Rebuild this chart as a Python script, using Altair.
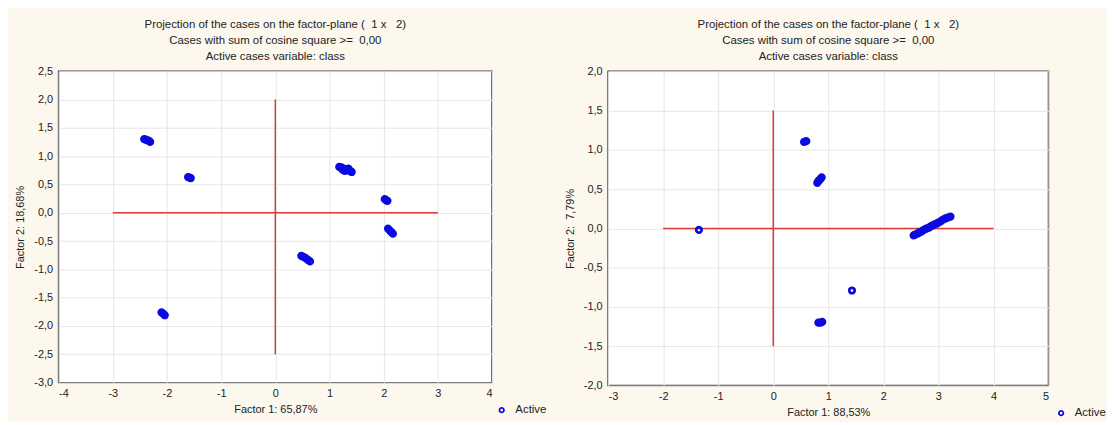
import altair as alt
import pandas as pd

# ---- data ----
NB = "\u00a0"
title_lines = [
    "Projection of the cases on the factor-plane (" + NB * 2 + "1 x" + NB * 3 + "2)",
    "Cases with sum of cosine square >=" + NB * 2 + "0,00",
    "Active cases variable: class",
]

left_x = [-2.42, -2.39, -2.36, -2.33, -2.31,
          -1.61, -1.58, -1.56,
          1.18, 1.22, 1.26, 1.30, 1.34, 1.38, 1.41, 1.28, 1.35, 1.24,
          2.02, 2.05, 2.07,
          2.08, 2.11, 2.14, 2.17,
          0.48, 0.52, 0.56, 0.60, 0.64,
          -2.10, -2.07, -2.04]
left_y = [1.30, 1.29, 1.28, 1.27, 1.25,
          0.63, 0.62, 0.61,
          0.81, 0.80, 0.78, 0.77, 0.75, 0.74, 0.72, 0.74, 0.78, 0.76,
          0.24, 0.22, 0.21,
          -0.28, -0.31, -0.34, -0.37,
          -0.76, -0.78, -0.80, -0.83, -0.86,
          -1.76, -1.78, -1.81]

right_x = [-1.35,
           0.56, 0.60,
           0.80, 0.82, 0.83, 0.86, 0.88,
           2.55, 2.58, 2.62, 2.65, 2.69, 2.72, 2.76, 2.79, 2.83, 2.86, 2.90,
           2.93, 2.97, 3.00, 3.04, 3.07, 3.11, 3.14, 3.18, 3.22,
           1.43,
           0.82, 0.86, 0.89]
right_y = [-0.02,
           1.10, 1.11,
           0.58, 0.60, 0.61, 0.63, 0.65,
           -0.09, -0.078, -0.065, -0.052, -0.04, -0.025, -0.01, 0.00, 0.01, 0.025, 0.04,
           0.05, 0.06, 0.075, 0.09, 0.105, 0.12, 0.13, 0.14, 0.15,
           -0.79,
           -1.20, -1.20, -1.19]

left_xdomain = [-4, 4]
left_ydomain = [-3.0, 2.5]
right_xdomain = [-3, 5]
right_ydomain = [-2.0, 2.0]

left_xticks = [-4, -3, -2, -1, 0, 1, 2, 3, 4]
left_yticks = [-3.0, -2.5, -2.0, -1.5, -1.0, -0.5, 0.0, 0.5, 1.0, 1.5, 2.0, 2.5]
right_xticks = [-3, -2, -1, 0, 1, 2, 3, 4, 5]
right_yticks = [-2.0, -1.5, -1.0, -0.5, 0.0, 0.5, 1.0, 1.5, 2.0]

left_hline = [-3, 3]      # horizontal red line x-extent at y=0
left_vline = [-2.5, 2.0]  # vertical red line y-extent at x=0
right_hline = [-2, 4]
right_vline = [-1.5, 1.5]

left_xtitle = "Factor 1: 65,87%"
left_ytitle = "Factor 2: 18,68%"
right_xtitle = "Factor 1: 88,53%"
right_ytitle = "Factor 2:" + NB * 2 + "7,79%"

series_name = "Active"

FONT = "Liberation Sans"
TXT = "#222222"
BLUE = "#0a0ae0"
RED = "#dd3a3a"

ylab_expr = "(datum.value < 0 ? '-' : '') + replace(format(abs(datum.value), '.1f'), '.', ',')"
xlab_expr = "(datum.value < 0 ? '-' : '') + format(abs(datum.value), 'd')"


def panel(px, py, xdom, ydom, xticks, yticks, hl, vl, xtitle, ytitle, w, h, lx):
    pts = pd.DataFrame({"f1": px, "f2": py, "s": [series_name] * len(px)})
    xs = alt.Scale(domain=xdom, nice=False, zero=False)
    ys = alt.Scale(domain=ydom, nice=False, zero=False)
    xaxis = alt.Axis(values=xticks, labelExpr=xlab_expr, grid=True, domain=False,
                     ticks=False, labelPadding=5, titlePadding=5, labelOverlap=False)
    yaxis = alt.Axis(values=yticks, labelExpr=ylab_expr, grid=True, domain=False,
                     ticks=False, labelPadding=6, titlePadding=8, labelOverlap=False)
    hdf = pd.DataFrame({"a": [hl[0]], "b": [hl[1]], "c": [0.0]})
    vdf = pd.DataFrame({"a": [vl[0]], "b": [vl[1]], "c": [0.0]})
    hline = alt.Chart(hdf).mark_rule(color=RED, strokeWidth=1.5).encode(
        x=alt.X("a:Q", scale=xs, axis=xaxis, title=xtitle), x2="b:Q",
        y=alt.Y("c:Q", scale=ys, axis=yaxis, title=ytitle))
    vline = alt.Chart(vdf).mark_rule(color=RED, strokeWidth=1.5).encode(
        y=alt.Y("a:Q", scale=ys, axis=yaxis, title=ytitle), y2="b:Q",
        x=alt.X("c:Q", scale=xs, axis=xaxis, title=xtitle))
    points = alt.Chart(pts).mark_point(filled=False, size=30, strokeWidth=2.8, opacity=1).encode(
        x=alt.X("f1:Q", scale=xs, axis=xaxis, title=xtitle),
        y=alt.Y("f2:Q", scale=ys, axis=yaxis, title=ytitle),
        color=alt.Color("s:N", scale=alt.Scale(range=[BLUE]),
                        legend=alt.Legend(title=None, orient="none", legendX=lx, legendY=h + 22,
                                          symbolType="circle", symbolSize=20, symbolStrokeWidth=1.8,
                                          labelFontSize=11.5, labelFont=FONT, labelColor=TXT,
                                          labelOffset=8)),
    )
    return alt.layer(hline, vline, points).properties(
        width=w, height=h,
        title=alt.TitleParams(title_lines, anchor="middle", fontSize=11.5, font=FONT,
                              fontWeight="normal", color=TXT, lineHeight=16, offset=3),
    )


left = panel(left_x, left_y, left_xdomain, left_ydomain, left_xticks, left_yticks,
             left_hline, left_vline, left_xtitle, left_ytitle, 437, 314, 441)
right = panel(right_x, right_y, right_xdomain, right_ydomain, right_xticks, right_yticks,
              right_hline, right_vline, right_xtitle, right_ytitle, 444, 317, 451)

chart = alt.hconcat(left, right, spacing=16).resolve_scale(color="independent").resolve_legend(
    color="independent"
).properties(
    background="#fcf8ee",
    padding={"left": 6, "top": 8, "right": 0, "bottom": 0},
).configure_view(
    fill="white", stroke="#3a3a3a", strokeWidth=1.5
).configure_axis(
    labelFont=FONT, labelFontSize=11, labelColor=TXT,
    titleFont=FONT, titleFontSize=11, titleColor=TXT, titleFontWeight="normal",
    gridColor="#e6e6e6", gridWidth=1,
)

chart.save("out.html", embed_options={"renderer": "svg", "actions": False})
